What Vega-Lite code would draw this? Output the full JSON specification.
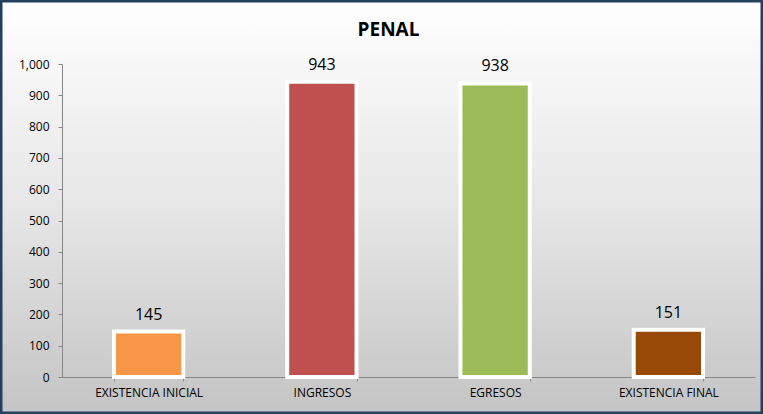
{
  "$schema": "https://vega.github.io/schema/vega-lite/v6.json",
  "width": 763,
  "height": 414,
  "autosize": {"type": "none"},
  "padding": 0,
  "background": "#ffffff",
  "title": {"text": "PENAL", "font": "Open Sans", "fontSize": 19, "fontWeight": "bold", "color": "#000000", "anchor": "middle", "frame": "group", "offset": -40, "dx": 7},
  "config": {
    "view": {
      "fill": {"gradient": "linear", "x1": 0, "y1": 0, "x2": 0, "y2": 1, "stops": [{"offset": 0, "color": "#ffffff"}, {"offset": 0.5, "color": "#e6e6e6"}, {"offset": 1, "color": "#c4c4c4"}]},
      "stroke": "#243f60",
      "strokeWidth": 5
    },
    "axis": {"labelFont": "Open Sans", "labelFontSize": 12, "labelColor": "#000000", "domainColor": "#868686", "tickColor": "#868686", "tickSize": 4, "grid": false, "title": null}
  },
  "data": {"values": [
    {"categoria": "EXISTENCIA INICIAL", "valor": 145},
    {"categoria": "INGRESOS", "valor": 943},
    {"categoria": "EGRESOS", "valor": 938},
    {"categoria": "EXISTENCIA FINAL", "valor": 151}
  ]},
  "encoding": {
    "x": {"field": "categoria", "type": "nominal", "sort": null,
      "scale": {"range": [62, 755], "paddingInner": 0.6, "paddingOuter": 0.3},
      "axis": {"labelAngle": 0, "offset": -37, "tickBand": "extent", "labelPadding": 6}},
    "y": {"field": "valor", "type": "quantitative",
      "scale": {"domain": [0, 1000], "range": [377, 64], "nice": false},
      "axis": {"values": [0, 100, 200, 300, 400, 500, 600, 700, 800, 900, 1000], "format": ",d", "offset": -62, "labelPadding": 9}}
  },
  "layer": [
    {"mark": {"type": "bar", "stroke": "#ffffff", "strokeWidth": 4},
     "encoding": {
       "y2": {"datum": 0},
       "color": {"field": "categoria", "type": "nominal", "legend": null,
         "scale": {"domain": ["EXISTENCIA INICIAL", "INGRESOS", "EGRESOS", "EXISTENCIA FINAL"], "range": ["#F79646", "#C0504D", "#9BBB59", "#984807"]}}
     }},
    {"mark": {"type": "text", "font": "Open Sans", "fontSize": 16, "color": "#000000", "baseline": "bottom", "dy": -9},
     "encoding": {"text": {"field": "valor", "type": "quantitative", "format": ",d"}}}
  ]
}
